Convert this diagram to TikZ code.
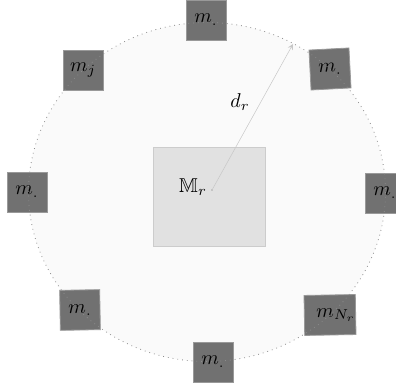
\documentclass[tikz,border=0pt]{standalone}
\usepackage{amssymb}
\usetikzlibrary{arrows}
\definecolor{massgray}{HTML}{717171}
\definecolor{boxgray}{HTML}{E1E1E1}
\tikzset{every path/.style={thin}, mass/.style={draw=gray!80, fill=massgray, minimum size=20pt, inner sep=0pt}}

\begin{document}
\begin{tikzpicture}[x=0.5pt,y=-0.5pt]
  \useasboundingbox (0,0) rectangle (396,383);
  % ring of radius d_r
  \fill[black!2] (207,192) ellipse (178.5 and 169.5);
  \node[draw=black!20, fill=boxgray, minimum width=56pt, minimum height=49.5pt] (box) at (209,196.5) {};
  \coordinate (c) at (212,190);
  \node (M) at (193,187) {$\mathbb{M}_r$};
  \fill[black!60] (c) circle (0.6);
  % masses on the ring
  \node[mass]              (a) at (206, 20) {$m_.$};
  \node[mass, rotate=3]    (b) at (330, 69) {$m_.$};
  \node[mass]              (c1) at ( 83, 70) {$m_j$};
  \node[mass]              (d) at ( 27,192) {$m_.$};
  \node[mass]              (e) at (385,193) {$m_.$};
  \node[mass, rotate=1]    (f) at ( 80,310) {$m_.$};
  \node[mass]              (g) at (213,362) {$m_.$};
  \node[mass, rotate=1]    (h) at (330,315) {\hspace*{6pt}$m_{N_r}$};
  \draw[black!45, dotted] (207,192) ellipse (178.5 and 169.5);
  % radius
  \coordinate (r) at (293,44);
  \draw[black!22, line width=0.25pt, ->, >=stealth] (c) -- (r);
  \node (dr) at (240,102) {$d_r$};
\end{tikzpicture}
\end{document}
